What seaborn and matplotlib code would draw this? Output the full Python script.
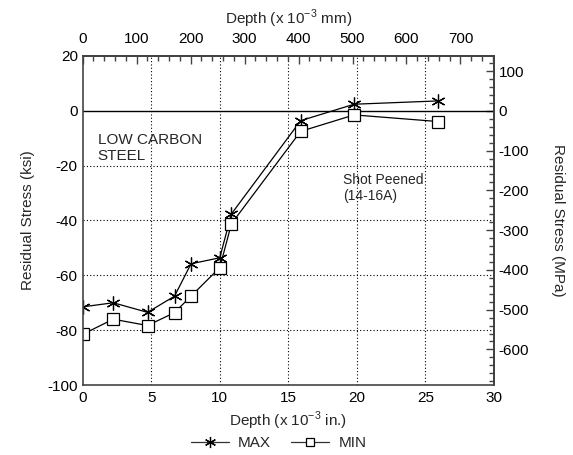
import matplotlib
matplotlib.use("Agg")
import matplotlib.pyplot as plt
import seaborn as sns
import pandas as pd
import numpy as np
from matplotlib.ticker import MultipleLocator, FixedLocator
from matplotlib.lines import Line2D

sns.set_theme(style="white")
plt.rcParams['font.family'] = ['Liberation Sans', 'DejaVu Sans']
plt.rcParams['axes.unicode_minus'] = False
plt.rcParams['mathtext.fontset'] = 'custom'
plt.rcParams['mathtext.rm'] = 'Liberation Sans'

depth_in = [0, 2.23, 4.73, 6.7, 7.9, 10.0, 10.85, 15.9, 19.8, 25.9]
max_ksi = [-71.5, -70.0, -73.5, -67.6, -55.8, -53.6, -37.6, -3.6, 2.4, 3.6]
min_ksi = [-81.5, -76.0, -78.3, -73.6, -67.6, -57.2, -41.2, -7.5, -1.5, -3.9]
mm_ticks = [0, 100, 200, 300, 400, 500, 600, 700]
mpa_ticks = [-600, -500, -400, -300, -200, -100, 0, 100]

df_max = pd.DataFrame({"depth": depth_in, "stress": max_ksi})
df_min = pd.DataFrame({"depth": depth_in, "stress": min_ksi})

fig = plt.figure(figsize=(5.73, 4.55), dpi=100)
ax = fig.add_axes([0.1443, 0.1538, 0.862 - 0.1443, 0.877 - 0.1538])

sns.lineplot(data=df_max, x="depth", y="stress", ax=ax, color="black", lw=0.9,
             marker=(6, 2, 0), markersize=10, markeredgewidth=0.9,
             markeredgecolor="black", sort=False, legend=False)
sns.lineplot(data=df_min, x="depth", y="stress", ax=ax, color="black", lw=0.9,
             marker="s", markersize=8, markerfacecolor="white", markeredgewidth=0.9,
             markeredgecolor="black", sort=False, legend=False)

ax.set_xlim(0, 30)
ax.set_ylim(-100, 20)
ax.xaxis.set_major_locator(MultipleLocator(5))
ax.xaxis.set_minor_locator(MultipleLocator(1))
ax.yaxis.set_major_locator(MultipleLocator(20))
ax.yaxis.set_minor_locator(MultipleLocator(4))
ax.axhline(0, color="black", lw=1.0, zorder=1)
for v in [5, 10, 15, 20, 25]:
    ax.axvline(v, color="black", lw=0.8, ls=(0, (1, 2)), zorder=0)
for h in [-20, -40, -60, -80]:
    ax.axhline(h, color="black", lw=0.8, ls=(0, (1, 2)), zorder=0)

for s in ax.spines.values():
    s.set_color("#444444")
    s.set_linewidth(1.2)

fs = 11
ax.tick_params(which="both", direction="in", colors="#444444", labelcolor="black",
               labelsize=fs)
ax.tick_params(which="major", length=6, width=1.0)
ax.tick_params(which="minor", length=3.5, width=1.0)
ax.tick_params(axis="x", pad=4)
ax.set_xlabel("Depth (x 10$^{-3}$ in.)", fontsize=fs, labelpad=4)
ax.set_ylabel("Residual Stress (ksi)", fontsize=fs, labelpad=9)

secx = ax.secondary_xaxis('top', functions=(lambda x: x * 25.4, lambda x: x / 25.4))
secx.xaxis.set_major_locator(FixedLocator(mm_ticks))
secx.xaxis.set_minor_locator(MultipleLocator(20))
secx.tick_params(which="both", direction="in", colors="#444444", labelcolor="black",
                 labelsize=fs, pad=7)
secx.tick_params(which="major", length=6, width=1.0)
secx.tick_params(which="minor", length=3.5, width=1.0)
secx.set_xlabel("Depth (x 10$^{-3}$ mm)", fontsize=fs, labelpad=6)

secy = ax.secondary_yaxis('right', functions=(lambda y: y * 6.895, lambda y: y / 6.895))
secy.yaxis.set_major_locator(FixedLocator(mpa_ticks))
secy.yaxis.set_minor_locator(MultipleLocator(20))
secy.tick_params(which="both", direction="in", colors="#444444", labelcolor="black",
                 labelsize=fs)
secy.tick_params(which="major", length=6, width=1.0)
secy.tick_params(which="minor", length=3.5, width=1.0)
secy.set_ylabel("Residual Stress (MPa)", fontsize=fs, rotation=270, labelpad=26)

ax.text(1.1, -8.0, "LOW CARBON\nSTEEL", fontsize=11, va="top", ha="left",
        linespacing=1.25)
ax.text(19.0, -22.5, "Shot Peened\n(14-16A)", fontsize=10, va="top", ha="left",
        linespacing=1.2)

handles = [
    Line2D([], [], color="#333333", lw=0.9, marker=(6, 2, 0), markersize=8,
           markeredgecolor="black", markeredgewidth=0.9),
    Line2D([], [], color="#333333", lw=0.9, marker="s", markersize=6,
           markerfacecolor="white", markeredgecolor="black", markeredgewidth=0.9),
]
fig.legend(handles, ["MAX", "MIN"], loc="lower center", bbox_to_anchor=(0.486, -0.02),
           ncol=2, frameon=False, fontsize=fs, handlelength=2.5, columnspacing=1.3,
           handletextpad=0.6)

fig.savefig("out.png", dpi=100)
